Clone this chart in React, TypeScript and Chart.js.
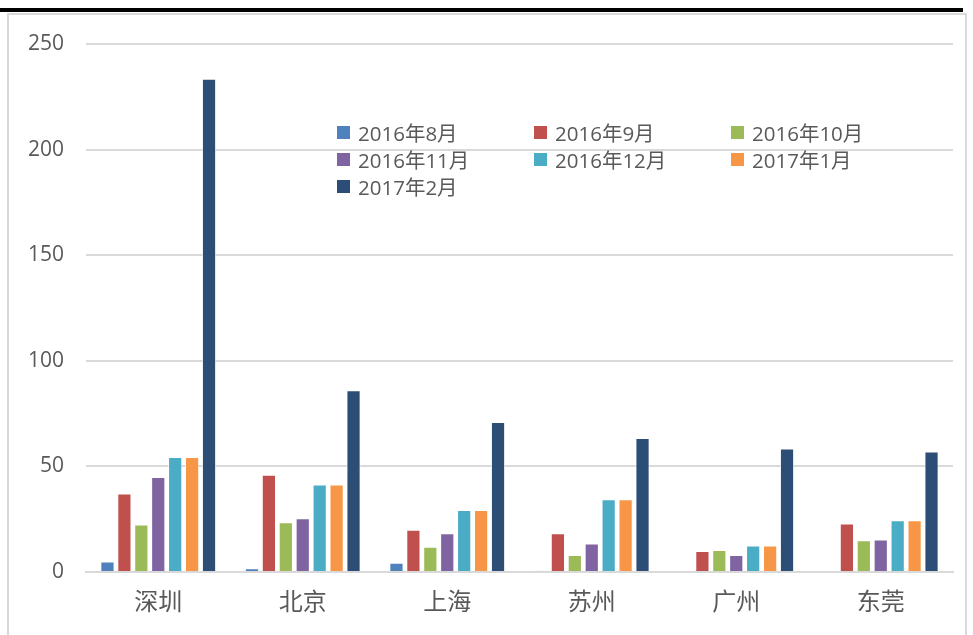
import React, { useEffect, useRef } from "react";
import { Chart, registerables } from "chart.js";

Chart.register(...registerables);

const categories = ["深圳", "北京", "上海", "苏州", "广州", "东莞"];
const seriesNames = ["2016年8月", "2016年9月", "2016年10月", "2016年11月", "2016年12月", "2017年1月", "2017年2月"];
const aug2016 = [5, 1.8, 4.4, 0.6, 0, 0];
const sep2016 = [37.2, 46, 20, 18.4, 10, 23];
const oct2016 = [22.5, 23.5, 12, 8, 10.4, 15];
const nov2016 = [45, 25.5, 18.4, 13.5, 8, 15.4];
const dec2016 = [54.5, 41.4, 29.4, 34.4, 12.5, 24.5];
const jan2017 = [54.5, 41.4, 29.4, 34.4, 12.5, 24.5];
const feb2017 = [233.5, 86, 71, 63.5, 58.5, 57];
const seriesValues = [aug2016, sep2016, oct2016, nov2016, dec2016, jan2017, feb2017];
const colors = ["#4F81BD", "#C0504D", "#9BBB59", "#8064A2", "#4BACC6", "#F79646", "#2C4D75"];
const yTicks = [0, 50, 100, 150, 200, 250];

export default function App() {
  const ref = useRef<HTMLCanvasElement | null>(null);
  useEffect(() => {
    if (!ref.current) return;
    const chart = new Chart(ref.current, {
      type: "bar",
      data: {
        labels: categories,
        datasets: seriesNames.map((name, i) => ({
          label: name,
          data: seriesValues[i],
          backgroundColor: colors[i],
          borderColor: "rgba(255,255,255,0.7)",
          borderWidth: 1,
          barPercentage: 0.84,
          categoryPercentage: 0.82,
        })),
      },
      options: {
        animation: false,
        responsive: false,
        layout: { padding: { left: 0, right: 20, top: 44, bottom: 0 } },
        plugins: { legend: { display: false }, tooltip: { enabled: false } },
        scales: {
          x: {
            grid: { display: false, drawTicks: false },
            border: { display: true, color: "#d9d9d9", width: 2 },
            ticks: { color: "#595959", font: { family: "Noto Sans CJK SC", size: 24 }, padding: 14 },
            afterFit: (s: any) => { s.height = 63; },
          },
          y: {
            min: 0,
            max: 250,
            afterBuildTicks: (s: any) => { s.ticks = yTicks.map((v) => ({ value: v })); },
            grid: { color: "#d9d9d9", lineWidth: 2, drawTicks: false },
            border: { display: false },
            ticks: { color: "#595959", font: { family: "Open Sans", size: 21 }, padding: 22 },
            afterFit: (s: any) => { s.width = 86; },
          },
        },
      },
    });
    return () => chart.destroy();
  }, []);

  return (
    <div style={{ position: "fixed", left: 0, top: 0, width: 973, height: 635, background: "#fff", overflow: "hidden" }}>
      <div style={{ position: "absolute", left: 0, top: 8, width: 963, height: 4, background: "#000" }} />
      <div style={{ position: "absolute", left: 7, top: 13, width: 960, height: 640, border: "2px solid #d9d9d9", boxSizing: "border-box" }} />
      <canvas ref={ref} width={973} height={635} style={{ position: "absolute", left: 0, top: 0 }} />
      {seriesNames.map((name, i) => {
        const col = i % 3;
        const row = Math.floor(i / 3);
        return (
          <div
            key={name}
            style={{
              position: "absolute",
              left: 337 + col * 197,
              top: 118 + row * 27,
              height: 28,
              display: "flex",
              alignItems: "center",
              fontFamily: "Open Sans, Noto Sans CJK SC",
              fontSize: 20.5,
              color: "#595959",
              whiteSpace: "nowrap",
            }}
          >
            <span style={{ display: "inline-block", width: 13, height: 13, background: colors[i], marginRight: 8 }} />
            {name}
          </div>
        );
      })}
    </div>
  );
}
